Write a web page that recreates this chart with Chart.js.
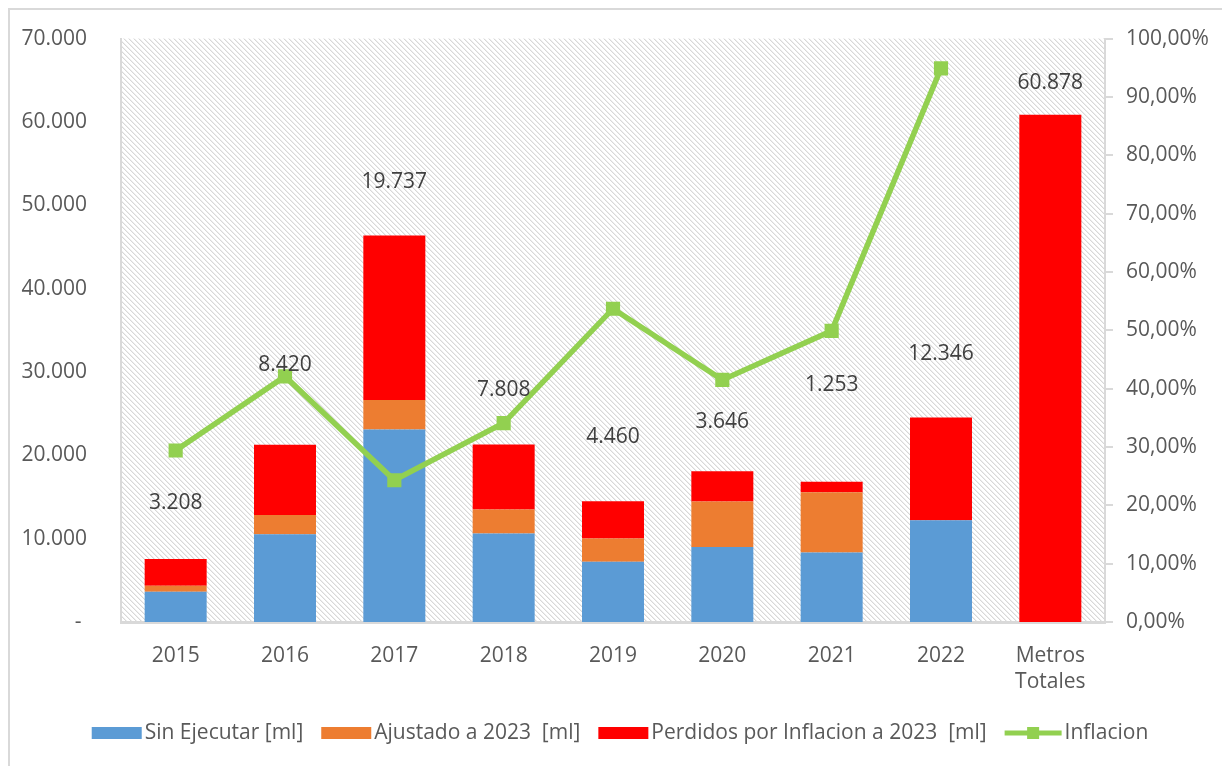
<!DOCTYPE html>
<html>
<head>
<meta charset="utf-8">
<script src="https://cdn.jsdelivr.net/npm/chart.js@4.4.1/dist/chart.umd.min.js"></script>
<style>
  html, body { margin: 0; padding: 0; background: #fff; }
  #wrap { width: 1222px; height: 766px; position: relative; }
</style>
</head>
<body>
<div id="wrap"><canvas id="chart" width="1222" height="766"></canvas></div>
<script>
const categories = ['2015', '2016', '2017', '2018', '2019', '2020', '2021', '2022', ['Metros', 'Totales']];
const sinEjecutar = [3630, 10530, 23090, 10610, 7220, 9010, 8340, 12200, 0];
const ajustado = [715, 2310, 3560, 2880, 2800, 5444, 7237, 0, 0];
const perdidos = [3208, 8420, 19737, 7808, 4460, 3646, 1253, 12346, 60878];
const inflacion = [29.4, 42.1, 24.3, 34.1, 53.7, 41.5, 49.9, 94.9, null];
// where the value labels sit, in left-axis units (they were moved by hand in the original)
const labelAt = [14240, 30870, 52770, 27880, 22140, 24050, 28480, 32190, 64620];

const FONT = '"Open Sans", "Noto Sans", sans-serif';
const FS = 21;
const TICK_COLOR = '#595959';
const AXIS_COLOR = '#d9d9d9';

function fmtThousands(v) {
    return String(Math.round(v)).replace(/\B(?=(\d{3})+(?!\d))/g, '.');
}

// diagonal hatch used behind the plot area
function makeHatch(ctx) {
    const c = document.createElement('canvas');
    c.width = 5; c.height = 5;
    const g = c.getContext('2d');
    const img = g.createImageData(5, 5);
    for (let y = 0; y < 5; y++) {
        for (let x = 0; x < 5; x++) {
            const d = (x - y + 5) % 5;
            const v = d === 0 ? 216 : (d === 1 ? 238 : 255);
            const i = (y * 5 + x) * 4;
            img.data[i] = v; img.data[i + 1] = v; img.data[i + 2] = v; img.data[i + 3] = 255;
        }
    }
    g.putImageData(img, 0, 0);
    return ctx.createPattern(c, 'repeat');
}

const backgroundPlugin = {
    id: 'hatchBg',
    beforeDraw(chart) {
        const { ctx, chartArea: a } = chart;
        ctx.save();
        ctx.fillStyle = '#fff';
        ctx.fillRect(0, 0, chart.width, chart.height);
        ctx.strokeStyle = AXIS_COLOR;
        ctx.lineWidth = 2;
        ctx.strokeRect(9, 9, chart.width + 20, chart.height + 20);
        ctx.fillStyle = makeHatch(ctx);
        ctx.fillRect(a.left, a.top, a.right - a.left, a.bottom - a.top);
        ctx.restore();
    }
};

const valueLabels = {
    id: 'valueLabels',
    afterDatasetsDraw(chart) {
        const { ctx, scales } = chart;
        ctx.save();
        ctx.font = FS + 'px ' + FONT;
        ctx.fillStyle = '#404040';
        ctx.textAlign = 'center';
        ctx.textBaseline = 'middle';
        perdidos.forEach((v, i) => {
            const x = scales.x.getPixelForValue(i);
            const y = scales.y.getPixelForValue(labelAt[i]);
            ctx.fillText(fmtThousands(v), x, y);
        });
        ctx.restore();
    }
};

const bottomLegend = {
    id: 'bottomLegend',
    afterDraw(chart) {
        const { ctx } = chart;
        const sets = chart.data.datasets;
        const order = [1, 2, 3, 0];
        const y = 733;
        ctx.save();
        ctx.font = FS + 'px ' + FONT;
        ctx.textBaseline = 'middle';
        const items = order.map(i => {
            const ds = sets[i];
            const sym = ds.type === 'line' ? 57 : 50;
            return { ds, sym, w: sym + 3 + ctx.measureText(ds.label).width };
        });
        const gap = 18;
        const total = items.reduce((s, it) => s + it.w, 0) + gap * (items.length - 1);
        let x = 620 - total / 2;
        items.forEach(it => {
            if (it.ds.type === 'line') {
                ctx.strokeStyle = it.ds.borderColor;
                ctx.lineWidth = 5;
                ctx.beginPath();
                ctx.moveTo(x, y);
                ctx.lineTo(x + it.sym, y);
                ctx.stroke();
                ctx.fillStyle = it.ds.borderColor;
                ctx.fillRect(x + it.sym / 2 - 6, y - 6, 12, 12);
            } else {
                ctx.fillStyle = it.ds.backgroundColor;
                ctx.fillRect(x, y - 6, it.sym, 12);
            }
            ctx.fillStyle = TICK_COLOR;
            ctx.textAlign = 'left';
            ctx.fillText(it.ds.label, x + it.sym + 3, y);
            x += it.w + gap;
        });
        ctx.restore();
    }
};

const ctx = document.getElementById('chart').getContext('2d');
new Chart(ctx, {
    data: {
        labels: categories,
        datasets: [
            {
                type: 'line',
                label: 'Inflacion',
                data: inflacion,
                yAxisID: 'y1',
                borderColor: '#92D050',
                backgroundColor: '#92D050',
                borderWidth: 5.5,
                pointStyle: 'rect',
                pointRadius: 10,
                pointHoverRadius: 10,
                pointBorderWidth: 0,
                tension: 0,
                spanGaps: false,
                order: 0
            },
            {
                type: 'bar',
                label: 'Sin Ejecutar [ml]',
                data: sinEjecutar,
                backgroundColor: '#5B9BD5',
                barPercentage: 0.567,
                categoryPercentage: 1,
                order: 1
            },
            {
                type: 'bar',
                label: 'Ajustado a 2023  [ml]',
                data: ajustado,
                backgroundColor: '#ED7D31',
                barPercentage: 0.567,
                categoryPercentage: 1,
                order: 1
            },
            {
                type: 'bar',
                label: 'Perdidos por Inflacion a 2023  [ml]',
                data: perdidos,
                backgroundColor: '#FF0000',
                barPercentage: 0.567,
                categoryPercentage: 1,
                order: 1
            }
        ]
    },
    options: {
        responsive: false,
        animation: false,
        layout: { padding: { left: 10, right: 10, top: 37, bottom: 64 } },
        plugins: {
            legend: { display: false },
            tooltip: { enabled: false }
        },
        scales: {
            x: {
                stacked: true,
                grid: { display: false },
                border: { display: true, color: AXIS_COLOR, width: 3 },
                ticks: {
                    color: TICK_COLOR,
                    font: { family: FONT, size: FS, lineHeight: 1.25 },
                    padding: 13,
                    maxRotation: 0
                },
                afterFit: s => { s.height = 80; }
            },
            y: {
                stacked: true,
                min: 0,
                max: 70000,
                grid: { display: false },
                border: { display: true, color: AXIS_COLOR, width: 2 },
                ticks: {
                    stepSize: 10000,
                    color: TICK_COLOR,
                    font: { family: FONT, size: FS },
                    padding: 26,
                    callback: v => v === 0 ? '- ' : fmtThousands(v)
                },
                afterFit: s => { s.width = 111; }
            },
            y1: {
                position: 'right',
                min: 0,
                max: 100,
                grid: {
                    display: true,
                    drawOnChartArea: false,
                    drawTicks: true,
                    tickLength: 8,
                    color: AXIS_COLOR,
                    lineWidth: 2
                },
                border: { display: true, color: AXIS_COLOR, width: 2 },
                ticks: {
                    stepSize: 10,
                    color: TICK_COLOR,
                    font: { family: FONT, size: FS },
                    padding: 13,
                    callback: v => v.toFixed(2).replace('.', ',') + '%'
                },
                afterFit: s => { s.width = 107; }
            }
        }
    },
    plugins: [backgroundPlugin, valueLabels, bottomLegend]
});
</script>
</body>
</html>
